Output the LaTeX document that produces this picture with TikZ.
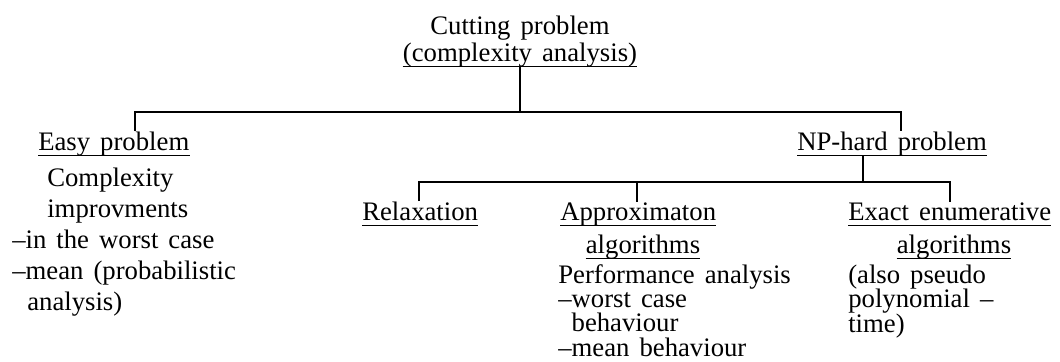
\documentclass[tikz,border=0pt]{standalone}
\usepackage{fontspec}
\setmainfont{Liberation Serif}[WordSpace=1.5]

\begin{document}
\begin{tikzpicture}[
    x=0.025cm, y=-0.025cm,
    font=\fontsize{19}{22}\selectfont,
    link/.style={line width=1.3pt},
    head/.style={
        inner xsep=0pt,
        inner ysep=0pt,
        text depth=0.36em,
        append after command={(\tikzlastnode.south west) edge[line width=0.9pt] (\tikzlastnode.south east)}
    },
    txt/.style={
        align=left,
        inner sep=0pt,
        anchor=base west
    }
]
\useasboundingbox (0,0) rectangle (1060,362);

% Top (multi-line nodes sit on the baseline of their last line)
\node[head,align=center,anchor=base,font=\fontsize{19}{19}\selectfont] (root) at (520,61) {Cutting problem\\(complexity analysis)};

% Level 1
\node[head,anchor=base west] (easy) at (38,150) {Easy problem};
\node[head,anchor=base west] (nphard) at (797,150) {NP-hard problem};

\node[txt] (easytxt) at (12,310) {\hspace*{0.875cm}Complexity\\
    \hspace*{0.875cm}improvments\\
    --in the worst case\\
    --mean (probabilistic\\
    \hspace*{0.375cm}analysis)};

% Level 2
\node[head,anchor=base west] (relax) at (362,220) {Relaxation};
\node[head,anchor=base west] (approx) at (560,220) {Approximaton};
\node[head,anchor=base] (approxalg) at (643,253) {algorithms};
\node[head,anchor=base west] (exact) at (848,220) {Exact enumerative};
\node[head,anchor=base] (exactalg) at (954,253) {algorithms};

\node[txt,font=\fontsize{19}{17.3}\selectfont] (approxtxt) at (558,356) {Performance analysis\\
    --worst case\\
    \phantom{--}behaviour\\
    --mean behaviour};
\node[txt,font=\fontsize{19}{17.4}\selectfont] (exacttxt) at (848,332) {(also pseudo\\
    polynomial --\\
    time)};

% Connectors
\coordinate (busL) at (135,112);
\coordinate (busR) at (901,112);
\draw[link] (root.south) -- (root.south |- busL);
\draw[link] (easy.north -| busL) -- (busL) -- (busR) -- (nphard.north -| busR);

\coordinate (npdown) at (863,182);
\coordinate (relaxtop) at (419,182);
\coordinate (approxtop) at (637,182);
\coordinate (exacttop) at (950,182);
\draw[link] (nphard.south -| npdown) -- (npdown);
\draw[link] (relax.north -| relaxtop) -- (relaxtop) -- (exacttop) -- (exact.north -| exacttop);
\draw[link] (approxtop) -- (approx.north -| approxtop);

\end{tikzpicture}
\end{document}
